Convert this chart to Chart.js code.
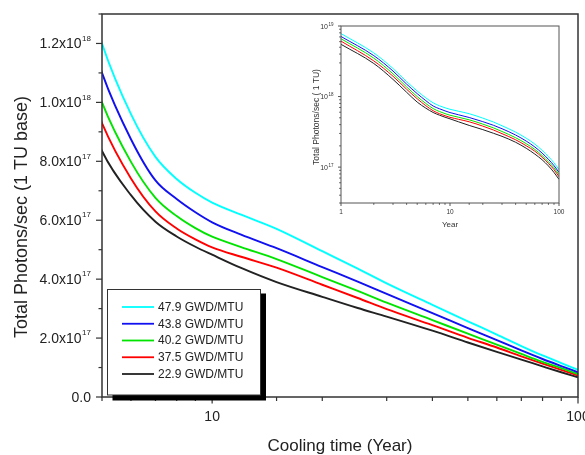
<!DOCTYPE html>
<html>
<head>
<meta charset="utf-8">
<script src="https://cdn.jsdelivr.net/npm/chart.js@4.4.0/dist/chart.umd.min.js"></script>
<style>
  html, body { margin: 0; padding: 0; background: #fff; }
  #wrap { position: relative; width: 585px; height: 455px; }
  #main-chart { position: absolute; left: 0; top: 0; }
  #inset-chart { position: absolute; left: 301px; top: 15px; }
</style>
</head>
<body>
<div id="wrap">
  <canvas id="main-chart" width="585" height="455"></canvas>
  <canvas id="inset-chart" width="276" height="218"></canvas>
</div>
<script>
// cooling time in years
const years = [1, 2, 3, 4, 5, 6, 7, 8, 9, 10, 12, 15, 20, 25, 30, 40, 50, 60, 70, 80, 90, 100];

// total photons/sec for each burnup
const burnup479 = [78e17, 41.5e17, 25e17, 16.3e17, 12.0e17, 9.6e17, 8.15e17, 7.4e17, 6.93e17, 6.6e17, 6.19e17, 5.71e17, 4.95e17, 4.36e17, 3.86e17, 3.13e17, 2.57e17, 2.12e17, 1.73e17, 1.41e17, 1.15e17, 0.92e17];
const burnup438 = [71e17, 38e17, 23e17, 15e17, 11.0e17, 8.75e17, 7.35e17, 6.72e17, 6.27e17, 5.93e17, 5.51e17, 5.05e17, 4.41e17, 3.92e17, 3.50e17, 2.85e17, 2.34e17, 1.93e17, 1.58e17, 1.29e17, 1.05e17, 0.84e17];
const burnup402 = [66e17, 35e17, 21e17, 13.7e17, 10.0e17, 7.98e17, 6.76e17, 6.14e17, 5.73e17, 5.44e17, 5.09e17, 4.68e17, 4.07e17, 3.60e17, 3.20e17, 2.61e17, 2.15e17, 1.78e17, 1.46e17, 1.19e17, 0.98e17, 0.78e17];
const burnup375 = [61e17, 32e17, 19.4e17, 12.7e17, 9.3e17, 7.42e17, 6.3e17, 5.72e17, 5.35e17, 5.08e17, 4.76e17, 4.39e17, 3.81e17, 3.36e17, 2.98e17, 2.44e17, 2.01e17, 1.68e17, 1.38e17, 1.13e17, 0.92e17, 0.73e17];
const burnup229 = [55e17, 29.4e17, 17.5e17, 11.5e17, 8.35e17, 6.85e17, 5.95e17, 5.45e17, 5.1e17, 4.83e17, 4.38e17, 3.9e17, 3.40e17, 3.02e17, 2.73e17, 2.25e17, 1.85e17, 1.53e17, 1.27e17, 1.04e17, 0.84e17, 0.67e17];

const seriesNames = ["47.9 GWD/MTU", "43.8 GWD/MTU", "40.2 GWD/MTU", "37.5 GWD/MTU", "22.9 GWD/MTU"];
const seriesValues = [burnup479, burnup438, burnup402, burnup375, burnup229];
const seriesColors = ["#00FFFF", "#1010F0", "#00E400", "#FF0000", "#222222"];

// tick labels
const mainXTicks = [10, 100];
const mainYTicks = [0, 2e17, 4e17, 6e17, 8e17, 1e18, 1.2e18];
const insetXTicks = [1, 10, 100];
const insetYTicks = [1e17, 1e18, 1e19];

const FONT = "'Liberation Sans', Arial, sans-serif";

function makeDatasets(width) {
  return seriesValues.map((vals, i) => ({
    label: seriesNames[i],
    data: vals.map((v, j) => ({ x: years[j], y: v })),
    borderColor: seriesColors[i],
    backgroundColor: seriesColors[i],
    borderWidth: width,
    pointRadius: 0,
    fill: false,
    cubicInterpolationMode: "monotone",
  }));
}

// draws "m.mx10" with a raised exponent, right aligned at xRight
function drawPower(ctx, base, exp, xRight, yMid, bigPx, smallPx, raise) {
  ctx.textAlign = "right";
  ctx.textBaseline = "middle";
  ctx.font = smallPx + "px " + FONT;
  const supW = ctx.measureText(exp).width;
  ctx.fillText(exp, xRight, yMid - raise);
  ctx.font = bigPx + "px " + FONT;
  ctx.fillText(base, xRight - supW - 0.5, yMid);
}

const mainDecor = {
  id: "mainDecor",
  afterDraw(chart) {
    const ctx = chart.ctx;
    const { left, right, top, bottom } = chart.chartArea;
    const xs = chart.scales.x;
    const ys = chart.scales.y;
    ctx.save();
    ctx.strokeStyle = "#333";
    ctx.fillStyle = "#222";
    ctx.lineWidth = 1.5;
    ctx.strokeRect(left, top, right - left, bottom - top);

    ctx.lineWidth = 1.2;
    ys.ticks.forEach((t) => {
      const py = ys.getPixelForValue(t.value);
      const major = Math.round(t.value / 1e17) % 2 === 0;
      ctx.beginPath();
      ctx.moveTo(left, py);
      ctx.lineTo(left - (major ? 6 : 3.5), py);
      ctx.stroke();
    });
    xs.ticks.forEach((t) => {
      if (t.value < 5 || t.value > 100) return;
      const px = xs.getPixelForValue(t.value);
      const lg = Math.log10(t.value);
      const major = Math.abs(lg - Math.round(lg)) < 1e-9;
      ctx.beginPath();
      ctx.moveTo(px, bottom);
      ctx.lineTo(px, bottom + (major ? 6.5 : 4));
      ctx.stroke();
    });

    // y labels
    mainYTicks.forEach((v) => {
      const py = ys.getPixelForValue(v) + 1;
      if (v === 0) {
        ctx.textAlign = "right";
        ctx.textBaseline = "middle";
        ctx.font = "14px " + FONT;
        ctx.fillText("0.0", 91, py);
        return;
      }
      const exp = Math.floor(Math.log10(v) + 1e-9);
      const mant = (v / Math.pow(10, exp)).toFixed(1);
      drawPower(ctx, mant + "x10", String(exp), 91, py, 14, 8, 6);
    });
    // x labels
    ctx.font = "14px " + FONT;
    ctx.textAlign = "center";
    ctx.textBaseline = "middle";
    mainXTicks.forEach((v) => {
      ctx.fillText(String(v), xs.getPixelForValue(v), 417);
    });

    // titles
    ctx.font = "17px " + FONT;
    ctx.fillText("Cooling time (Year)", 340, 446);
    ctx.save();
    ctx.translate(22.5, 217);
    ctx.rotate(-Math.PI / 2);
    ctx.font = "18px " + FONT;
    ctx.fillText("Total Photons/sec (1 TU base)", 0, 0);
    ctx.restore();

    // legend with drop shadow
    ctx.fillStyle = "#000";
    ctx.fillRect(112.5, 293.5, 153.5, 107);
    ctx.fillStyle = "#fff";
    ctx.fillRect(107.5, 289.5, 153, 105.5);
    ctx.lineWidth = 1;
    ctx.strokeStyle = "#333";
    ctx.strokeRect(107.5, 289.5, 153, 105.5);
    ctx.font = "12px " + FONT;
    ctx.textAlign = "left";
    chart.data.datasets.forEach((ds, i) => {
      const ry = 307 + i * 16.75;
      ctx.strokeStyle = ds.borderColor;
      ctx.lineWidth = 1.8;
      ctx.beginPath();
      ctx.moveTo(122, ry);
      ctx.lineTo(154, ry);
      ctx.stroke();
      ctx.fillStyle = "#222";
      ctx.fillText(ds.label, 158, ry + 0.5);
    });
    ctx.restore();
  },
};

const insetDecor = {
  id: "insetDecor",
  afterDraw(chart) {
    const ctx = chart.ctx;
    const { left, right, top, bottom } = chart.chartArea;
    const xs = chart.scales.x;
    const ys = chart.scales.y;
    ctx.save();
    ctx.strokeStyle = "#555";
    ctx.fillStyle = "#333";
    ctx.lineWidth = 1;
    ctx.strokeRect(left, top, right - left, bottom - top);

    const isPow = (v) => {
      const lg = Math.log10(v);
      return Math.abs(lg - Math.round(lg)) < 1e-9;
    };
    ys.ticks.forEach((t) => {
      if (t.value < ys.min || t.value > ys.max) return;
      const py = ys.getPixelForValue(t.value);
      ctx.beginPath();
      ctx.moveTo(left, py);
      ctx.lineTo(left - (isPow(t.value) ? 3 : 1.8), py);
      ctx.stroke();
    });
    xs.ticks.forEach((t) => {
      if (t.value < xs.min || t.value > xs.max) return;
      const px = xs.getPixelForValue(t.value);
      ctx.beginPath();
      ctx.moveTo(px, bottom);
      ctx.lineTo(px, bottom + (isPow(t.value) ? 3 : 1.8));
      ctx.stroke();
    });

    insetYTicks.forEach((v) => {
      const exp = Math.round(Math.log10(v));
      drawPower(ctx, "10", String(exp), 32.5, ys.getPixelForValue(v) + 1, 7, 4.5, 2.5);
    });
    ctx.font = "6.5px " + FONT;
    ctx.textAlign = "center";
    ctx.textBaseline = "middle";
    insetXTicks.forEach((v) => {
      ctx.fillText(String(v), xs.getPixelForValue(v), 197);
    });
    ctx.font = "8px " + FONT;
    ctx.fillText("Year", 149, 210);
    ctx.save();
    ctx.translate(15.7, 102);
    ctx.rotate(-Math.PI / 2);
    ctx.font = "8.5px " + FONT;
    ctx.fillText("Total Photons/sec ( 1 TU)", 0, 0);
    ctx.restore();
    ctx.restore();
  },
};

new Chart(document.querySelector("#main-chart").getContext("2d"), {
  type: "line",
  data: { datasets: makeDatasets(1.9) },
  options: {
    responsive: false,
    animation: false,
    layout: { padding: { left: 0, right: 7, top: 14, bottom: 0 } },
    plugins: { legend: { display: false }, tooltip: { enabled: false } },
    scales: {
      x: {
        type: "logarithmic",
        min: 5,
        max: 100,
        ticks: { display: false },
        grid: { display: false },
        border: { display: false },
        afterFit: (s) => { s.height = 58; },
      },
      y: {
        type: "linear",
        min: 0,
        max: 1.3e18,
        ticks: { display: false, stepSize: 1e17 },
        grid: { display: false },
        border: { display: false },
        afterFit: (s) => { s.width = 102; },
      },
    },
  },
  plugins: [mainDecor],
});

new Chart(document.querySelector("#inset-chart").getContext("2d"), {
  type: "line",
  data: { datasets: makeDatasets(1) },
  options: {
    responsive: false,
    animation: false,
    layout: { padding: { left: 0, right: 18, top: 11, bottom: 0 } },
    plugins: { legend: { display: false }, tooltip: { enabled: false } },
    scales: {
      x: {
        type: "logarithmic",
        min: 1,
        max: 100,
        ticks: { display: false },
        grid: { display: false },
        border: { display: false },
        afterFit: (s) => { s.height = 30; },
      },
      y: {
        type: "logarithmic",
        min: 3.1e16,
        max: 1e19,
        ticks: { display: false },
        grid: { display: false },
        border: { display: false },
        afterFit: (s) => { s.width = 40; },
      },
    },
  },
  plugins: [insetDecor],
});
</script>
</body>
</html>
